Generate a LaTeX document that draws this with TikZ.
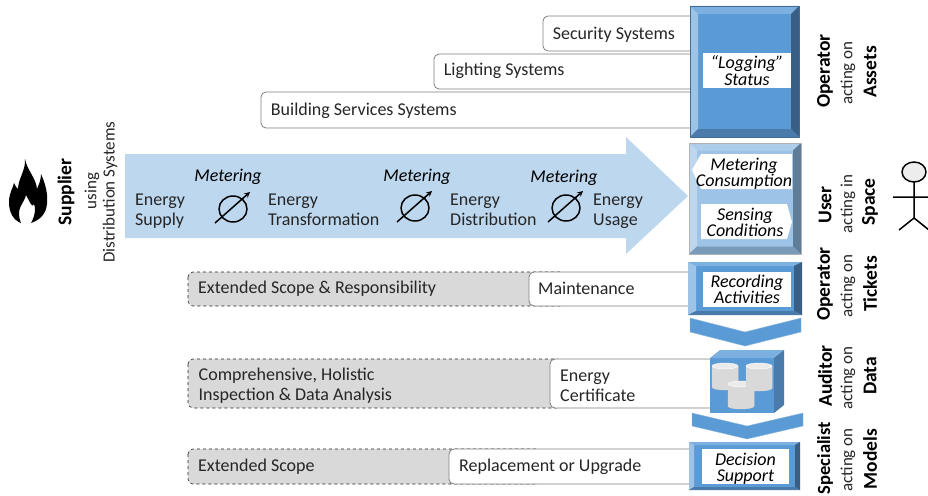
\documentclass[tikz,border=0pt]{standalone}
\usepackage{fontspec}
\setmainfont{Carlito}
\definecolor{arrowfill}{HTML}{BDD7EE}
\definecolor{inkdark}{HTML}{262626}
\definecolor{greyfill}{HTML}{D9D9D9}
\definecolor{edgegrey}{HTML}{7F7F7F}
\definecolor{mainblue}{HTML}{5B9BD5}
\definecolor{topblue}{HTML}{7CB0E0}
\definecolor{leftblue}{HTML}{9DC3E6}
\definecolor{rightblue}{HTML}{3A5F85}
\definecolor{botblue}{HTML}{4A7BAA}
\definecolor{mainlight}{HTML}{9DC3E6}
\definecolor{toplight}{HTML}{AECDEA}
\definecolor{leftlight}{HTML}{BDD7EE}
\definecolor{rightlight}{HTML}{5F7C98}
\definecolor{botlight}{HTML}{7A9ABA}
\tikzset{
	bodytext/.style={font=\fontsize{18}{20}\selectfont,text=inkdark,inner sep=0pt,anchor=west,align=left},
	metertext/.style={font=\fontsize{18}{20}\selectfont\itshape,text=black,inner sep=0pt},
	viewtext/.style={font=\fontsize{18}{16.5}\selectfont\itshape,text=black,inner sep=0pt,align=center},
	rolebold/.style={font=\fontsize{19.5}{20}\selectfont\bfseries,text=black,inner sep=0pt,rotate=90},
	rolethin/.style={font=\fontsize{17}{20}\selectfont,text=inkdark,inner sep=0pt,rotate=90},
	whitebar/.style={draw=edgegrey,fill=white,line width=0.8pt,rounded corners=5pt},
	greybar/.style={draw=inkdark,fill=greyfill,line width=0.6pt,dashed,rounded corners=5pt},
	whitelabel/.style={fill=white,inner sep=0pt},
}
% x0,y0,x1,y1,inset x,inset y,colour set
\newcommand{\bevelbox}[7]{
	\fill[main#7] (#1,#2) rectangle (#3,#4);
	\fill[top#7] (#1,#2)--(#3,#2)--(#3-#5,#2+#6)--(#1+#5,#2+#6)--cycle;
	\fill[left#7] (#1,#2)--(#1+#5,#2+#6)--(#1+#5,#4-#6)--(#1,#4)--cycle;
	\fill[right#7] (#3,#2)--(#3-#5,#2+#6)--(#3-#5,#4-#6)--(#3,#4)--cycle;
	\fill[bot#7] (#1,#4)--(#1+#5,#4-#6)--(#3-#5,#4-#6)--(#3,#4)--cycle;
}
\begin{document}
\begin{tikzpicture}[x=1pt,y=-1pt,line join=round]
	\useasboundingbox (0,0) rectangle (928,495);
	\clip (0,0) rectangle (928,495);
	% bars behind the views
	\foreach \xa/\ya/\yb/\txt/\dy in {543/16/51/Security Systems/1,434/54/89/Lighting Systems/-1,261/92/128/Building Services Systems/1}
	\draw[whitebar] (\xa,\ya) rectangle (700,\yb) node[bodytext] at (\xa+9.5,\ya/2+\yb/2+\dy) {\txt};
	\foreach \xb/\ya/\yb in {565/272/306,562/359/408,543/449/484}
	\draw[greybar] (188,\ya) rectangle (\xb,\yb);
	\draw[whitebar] (529,272) rectangle (700,306);
	\draw[whitebar] (550,359) rectangle (720,408);
	\draw[whitebar] (449,449) rectangle (700,484);
	\node[bodytext] (scopeA) at (198,289) {Extended Scope \& Responsibility};
	\node[bodytext] (scopeB) at (198.5,385.5) {Comprehensive, Holistic\\Inspection \& Data Analysis};
	\node[bodytext] (scopeC) at (198,467) {Extended Scope};
	\node[bodytext] (maint) at (538,288) {Maintenance};
	\node[bodytext] (cert) at (560,385.5) {Energy\\Certificate};
	\node[bodytext] (repl) at (459,466.5) {Replacement or Upgrade};
	% main arrow
	\fill[arrowfill] (125,154)--(626,154)--(626,137)--(688,196)--(626,254)--(626,238)--(125,238)--cycle;
	\node[bodytext] (supply) at (135,211) {Energy\\Supply};
	\node[bodytext] (transf) at (268,209.5) {Energy\\Transformation};
	\node[bodytext] (distr) at (450,209.5) {Energy\\Distribution};
	\node[bodytext] (usage) at (593,211) {Energy\\Usage};
	\foreach \x/\y/\lx/\ly in {233/209/228/177,415/208/417/177,566/208/564/178}{
		\node[metertext] at (\lx,\ly) {Metering};
		\draw[line width=1.5pt,black] (\x,\y) ellipse (14 and 13);
		\draw[line width=1.5pt,black,-stealth] (\x-18,\y+14) -- (\x+17,\y-17);
	}
	% views
	\bevelbox{690}{6}{799}{137}{8}{8}{blue}
	\draw[mainblue!70!black,line width=0.5pt] (690,6) rectangle (799,137);
	\node[whitelabel,viewtext,minimum width=88pt,minimum height=35pt] (logging) at (747,70.5) {“Logging”\\Status};
	\bevelbox{689}{143}{801}{254}{8}{7.5}{light}
	\draw[gray!60,line width=1pt] (689,143) rectangle (801,254);
	\fill[white] (692,170)--(701,154)--(792,154)--(792,189)--(701,189)--cycle;
	\fill[white] (701,204)--(787,204)--(792,222)--(787,239)--(701,239)--cycle;
	\node[viewtext] (consum) at (744,174) {Metering\\Consumption};
	\node[viewtext] (sensing) at (745,222.5) {Sensing\\Conditions};
	\bevelbox{688}{262}{802}{315}{8}{4}{blue}
	\node[whitelabel,viewtext,minimum width=88pt,minimum height=35pt] (record) at (747,289.5) {Recording\\Activities};
	\fill[mainblue,draw=mainblue!70!white] (690,318)--(745,332)--(801,318)--(801,332)--(745,346)--(690,332)--cycle;
	\fill[mainblue] (710,358) rectangle (774,413);
	\fill[topblue] (710,358)--(720,350)--(784,350)--(774,358)--cycle;
	\fill[botblue] (774,358)--(784,350)--(784,405)--(774,413)--cycle;
	\foreach \x/\ya/\yb in {725/366/387,741/384/406,759/366/388}{
		\fill[greyfill,draw=white!85!black,line width=0.5pt] (\x-13,\ya) -- (\x-13,\yb) arc[start angle=180,end angle=0,x radius=13,y radius=3] -- (\x+13,\ya) -- cycle;
		\fill[white!92!black,draw=white] (\x,\ya) ellipse (13 and 3);
	}
	\fill[mainblue,draw=mainblue!70!white] (692,413)--(747,426)--(803,413)--(803,426)--(747,439)--(692,426)--cycle;
	\bevelbox{689}{442}{800}{490}{5}{3}{blue}
	\node[whitelabel,viewtext,minimum width=87pt,minimum height=35pt] at (745.5,466.5) {};
	\node[viewtext] (decision) at (745.5,469) {Decision\\Support};
	% roles
	\foreach \x/\y/\txt in {825/71/Operator,870/72/Assets,825/205/User,870/202/Space,825/284/Operator,870/284/Tickets,825/376/Auditor,870/376/Data,870/459/Models,66/192/Supplier}
	\node[rolebold] at (\x,\y) {\txt};
	\node[rolebold,scale=0.95] (specialist) at (825,458) {Specialist};
	\foreach \x/\y/\txt in {848/73/acting on,848/204/acting in,848/286/acting on,848/378/acting on,848/460/acting on,92/191/using,110/192/Distribution Systems}
	\node[rolethin] at (\x,\y) {\txt};
	% flame
	\fill[black] (25,159) .. controls (27,170) and (36,178) .. (37,189) .. controls (39,184) and (41,180) .. (41,174)
	.. controls (46,185) and (48,195) .. (47,204) .. controls (46,214) and (40,220) .. (31,223)
	.. controls (35,216) and (36,208) .. (34,204) .. controls (32,208) and (31,204) .. (26,195)
	.. controls (24,204) and (15,208) .. (21,223) .. controls (13,220) and (9,212) .. (9,202)
	.. controls (9,193) and (13,188) .. (14,183) .. controls (15,186) and (17,188) .. (18,189)
	.. controls (18,179) and (26,170) .. (25,159) -- cycle;
	% user figure
	\draw[black,line width=1.5pt,fill=white!93!black] (914,172) ellipse (12 and 10);
	\draw[black,line width=1.5pt] (914,182)--(914,218) (893,197)--(935,197) (899,230)--(914,218)--(929,230);
\end{tikzpicture}
\end{document}
